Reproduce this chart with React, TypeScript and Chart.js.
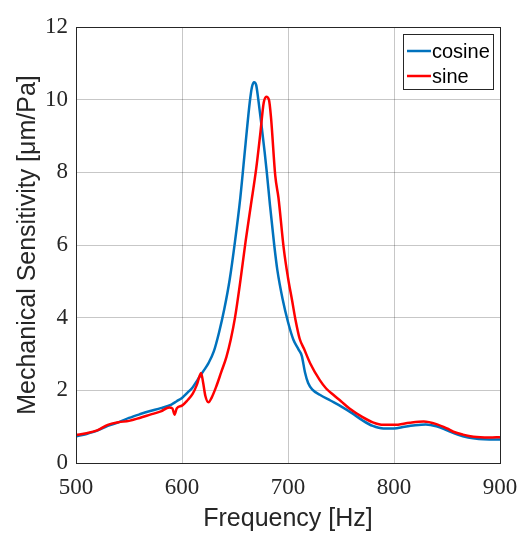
import React, { useEffect, useRef } from "react";
import { Chart, registerables } from "chart.js";

Chart.register(...registerables);

const cosineFreq = [500, 510, 520, 530, 540, 550, 560, 570, 580, 590, 595, 600, 605, 610, 615, 620, 625, 630, 635, 640, 645, 650, 655, 660, 664, 666, 668, 670, 672, 675, 678, 680, 683, 687, 690, 695, 700, 705, 710, 713, 716, 719, 723, 730, 740, 750, 760, 770, 780, 790, 800, 810, 820, 830, 840, 850, 860, 870, 880, 890, 900];
const cosineVals = [0.73, 0.8, 0.89, 1.02, 1.12, 1.24, 1.34, 1.43, 1.51, 1.61, 1.7, 1.79, 1.93, 2.08, 2.3, 2.52, 2.75, 3.07, 3.6, 4.25, 5.05, 6.1, 7.3, 8.8, 9.95, 10.35, 10.48, 10.4, 10.0, 9.3, 8.55, 8.0, 7.1, 6.0, 5.3, 4.5, 3.88, 3.4, 3.12, 2.95, 2.5, 2.2, 2.02, 1.88, 1.72, 1.56, 1.38, 1.18, 1.02, 0.95, 0.95, 1.0, 1.04, 1.06, 1.01, 0.9, 0.78, 0.7, 0.66, 0.65, 0.65];

const sineFreq = [500, 510, 520, 530, 540, 550, 560, 570, 580, 588, 591, 593, 595, 600, 605, 610, 614, 618, 620, 622, 625, 628, 632, 637, 642, 646, 650, 655, 660, 665, 670, 674, 677, 679.5, 682, 684, 688, 691, 696, 700, 704, 707, 711, 715, 721, 730, 736, 743, 750, 758, 770, 780, 790, 800, 815, 828, 840, 850, 856, 865, 875, 890, 900];
const sineVals = [0.77, 0.82, 0.9, 1.05, 1.12, 1.16, 1.24, 1.33, 1.42, 1.53, 1.5, 1.33, 1.5, 1.58, 1.72, 1.9, 2.15, 2.48, 2.2, 1.85, 1.67, 1.8, 2.08, 2.5, 2.93, 3.4, 4.0, 5.0, 6.1, 7.1, 8.1, 9.1, 9.9, 10.08, 10.0, 9.5, 7.9, 7.3, 5.9, 5.1, 4.45, 3.95, 3.42, 3.15, 2.74, 2.28, 2.05, 1.87, 1.7, 1.5, 1.27, 1.12, 1.05, 1.05, 1.11, 1.14, 1.07, 0.95, 0.86, 0.78, 0.72, 0.7, 0.71];

const seriesNames = ["cosine", "sine"];
const seriesColors = ["#0072BD", "#FF0000"];
const xTicks = [500, 600, 700, 800, 900];
const yTicks = [0, 2, 4, 6, 8, 10, 12];

const boxLegendPlugin = {
  id: "boxLegend",
  afterDraw(chart: any) {
    const { ctx, chartArea } = chart;
    const { left, top, right, bottom } = chartArea;
    ctx.save();
    ctx.strokeStyle = "#262626";
    ctx.lineWidth = 1;
    ctx.strokeRect(Math.round(left) + 0.5, Math.round(top) + 0.5, Math.round(right - left), Math.round(bottom - top));
    // legend box
    const bx = 403, by = 34, bw = 90, bh = 55;
    ctx.fillStyle = "#ffffff";
    ctx.fillRect(bx, by, bw, bh);
    ctx.strokeStyle = "#262626";
    ctx.strokeRect(bx + 0.5, by + 0.5, bw, bh);
    ctx.font = "20px 'Liberation Sans', Arial, sans-serif";
    ctx.textBaseline = "middle";
    ctx.textAlign = "left";
    seriesNames.forEach((name, i) => {
      const y = by + 17 + i * 25;
      ctx.strokeStyle = seriesColors[i];
      ctx.lineWidth = 2.5;
      ctx.beginPath();
      ctx.moveTo(bx + 4, y);
      ctx.lineTo(bx + 28, y);
      ctx.stroke();
      ctx.fillStyle = "#000000";
      ctx.fillText(name, bx + 29, y + 1);
    });
    ctx.restore();
  },
};

export default function App() {
  const ref = useRef<HTMLCanvasElement>(null);
  useEffect(() => {
    document.body.style.margin = "0";
    const canvas = ref.current!;
    const chart = new Chart(canvas, {
      type: "line",
      data: {
        datasets: [
          {
            label: seriesNames[0],
            data: cosineFreq.map((x, i) => ({ x, y: cosineVals[i] })),
            borderColor: seriesColors[0],
            backgroundColor: seriesColors[0],
            borderWidth: 2.5,
            pointRadius: 0,
            cubicInterpolationMode: "monotone",
            order: 1,
          },
          {
            label: seriesNames[1],
            data: sineFreq.map((x, i) => ({ x, y: sineVals[i] })),
            borderColor: seriesColors[1],
            backgroundColor: seriesColors[1],
            borderWidth: 2.5,
            pointRadius: 0,
            cubicInterpolationMode: "monotone",
            order: 0,
          },
        ],
      },
      options: {
        responsive: false,
        animation: false,
        layout: { padding: { left: 0, top: 27, right: 21, bottom: 0 } },
        plugins: { legend: { display: false }, tooltip: { enabled: false } },
        scales: {
          x: {
            type: "linear",
            min: 500,
            max: 900,
            afterBuildTicks: (s: any) => {
              s.ticks = xTicks.map((v) => ({ value: v }));
            },
            afterFit: (s: any) => {
              s.height = 71;
              s.paddingLeft = 0;
              s.paddingRight = 0;
            },
            grid: { color: "rgba(0,0,0,0.22)", drawTicks: false, lineWidth: 1 },
            border: { display: false },
            ticks: {
              color: "#262626",
              padding: 11,
              font: { family: "'Liberation Serif', 'DejaVu Serif', serif", size: 23 },
              maxRotation: 0,
            },
            title: {
              display: true,
              text: "Frequency [Hz]",
              color: "#262626",
              font: { family: "'Liberation Sans', Arial, sans-serif", size: 25 },
              padding: { top: 0, bottom: 0 },
            },
          },
          y: {
            type: "linear",
            min: 0,
            max: 12,
            afterBuildTicks: (s: any) => {
              s.ticks = yTicks.map((v) => ({ value: v }));
            },
            afterFit: (s: any) => {
              s.width = 76;
              s.paddingTop = 0;
              s.paddingBottom = 0;
            },
            grid: { color: "rgba(0,0,0,0.22)", drawTicks: false, lineWidth: 1 },
            border: { display: false },
            ticks: {
              color: "#262626",
              padding: 8,
              font: { family: "'Liberation Serif', 'DejaVu Serif', serif", size: 23 },
            },
            title: {
              display: true,
              text: "Mechanical Sensitivity [μm/Pa]",
              color: "#262626",
              font: { family: "'Liberation Sans', Arial, sans-serif", size: 25 },
              padding: { top: 13, bottom: 0 },
            },
          },
        },
      },
      plugins: [boxLegendPlugin],
    });
    return () => chart.destroy();
  }, []);
  return <canvas ref={ref} width={521} height={534} style={{ display: "block" }} />;
}
